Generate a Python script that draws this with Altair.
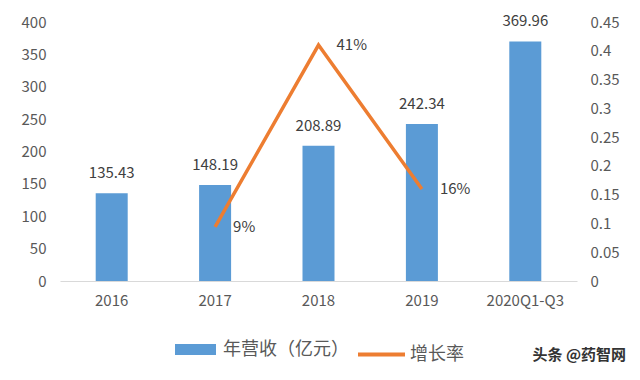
import altair as alt
import pandas as pd

years = ["2016", "2017", "2018", "2019", "2020Q1-Q3"]
revenue = [135.43, 148.19, 208.89, 242.34, 369.96]
growth_years = ["2017", "2018", "2019"]
growth = [0.094, 0.41, 0.16]
growth_labels = ["9%", "41%", "16%"]

FONT = "Noto Sans CJK SC"
GREY = "#595959"
BLUE = "#5B9BD5"
ORANGE = "#ED7D31"

bars_df = pd.DataFrame({"year": years, "rev": revenue, "s": ["年营收（亿元）"] * 5})
line_df = pd.DataFrame({"year": growth_years, "g": growth, "lab": growth_labels, "s": ["增长率"] * 3})

xscale = alt.Scale(domain=years, paddingInner=0.69, paddingOuter=0.345)
xaxis = alt.Axis(title=None, labelAngle=0, labelFont=FONT, labelFontSize=15,
                 labelColor=GREY, labelPadding=12, ticks=False, domain=True, grid=False,
                 domainColor="#d9d9d9", domainWidth=1)
yleft_axis = alt.Axis(title=None, values=list(range(0, 401, 50)), grid=False, ticks=False,
                      domain=False, labelOverlap=False, labelFont=FONT,
                      labelFontSize=15, labelColor=GREY, labelPadding=14)
yright_axis = alt.Axis(title=None, orient="right", values=[i * 0.05 for i in range(10)],
                       labelExpr="format(datum.value, '~g')", grid=False, ticks=False,
                       domain=False, labelOverlap=False, labelFont=FONT,
                       labelFontSize=15, labelColor=GREY, labelPadding=13)

left_base = alt.Chart(bars_df).encode(
    x=alt.X("year:N", scale=xscale, sort=years, axis=xaxis),
    y=alt.Y("rev:Q", scale=alt.Scale(domain=[0, 400]), axis=yleft_axis),
)
bars = left_base.mark_bar(size=32).encode(
    color=alt.Color("s:N", scale=alt.Scale(range=[BLUE]),
                    legend=alt.Legend(title=None, orient="none", legendX=115, legendY=307,
                                      symbolType="M-1,-0.27L1,-0.27L1,0.27L-1,0.27Z",
                                      symbolSize=1681, symbolStrokeWidth=0,
                                      labelFont=FONT, labelFontSize=18, labelColor=GREY,
                                      labelOffset=7, padding=0)),
)
bar_text = left_base.mark_text(baseline="bottom", dy=-12, font=FONT, fontSize=15,
                               color="#404040").encode(
    text=alt.Text("rev:Q", format=".2f"),
)

right_base = alt.Chart(line_df).encode(
    x=alt.X("year:N", scale=xscale, sort=years, axis=xaxis),
    y=alt.Y("g:Q", scale=alt.Scale(domain=[0, 0.45]), axis=yright_axis),
)
line = right_base.mark_line(strokeWidth=3.5).encode(
    stroke=alt.Stroke("s:N", scale=alt.Scale(range=[ORANGE]),
                      legend=alt.Legend(title=None, orient="none", legendX=296, legendY=307,
                                        symbolType="stroke", symbolSize=2209,
                                        symbolStrokeWidth=4,
                                        labelFont=FONT, labelFontSize=18, labelColor=GREY,
                                        labelOffset=3, padding=0)),
)
line_text = right_base.mark_text(align="left", baseline="middle", dx=18, font=FONT,
                                 fontSize=15, color="#404040").encode(
    text="lab:N",
)

watermark = alt.Chart(pd.DataFrame({"t": ["头条 @药智网"]})).mark_text(
    align="right", baseline="middle", font=FONT, fontSize=15, fontWeight="bold",
    color="#333333").encode(x=alt.value(566), y=alt.value(333), text="t:N")

left = alt.layer(bars, bar_text)
right = alt.layer(line, line_text)

chart = alt.layer(left, right, watermark).resolve_scale(
    y="independent", color="independent", stroke="independent"
).properties(
    width=517, height=259,
    view=alt.ViewBackground(stroke="transparent", strokeOpacity=0),
    autosize=alt.AutoSizeParams(type="none"),
    padding={"left": 52, "top": 14, "right": 55, "bottom": 91},
).configure_view(stroke="transparent", strokeOpacity=0).configure_axis(
    domain=False).configure(background="#ffffff")

chart.save("out.html", embed_options={"renderer": "svg", "actions": False})
